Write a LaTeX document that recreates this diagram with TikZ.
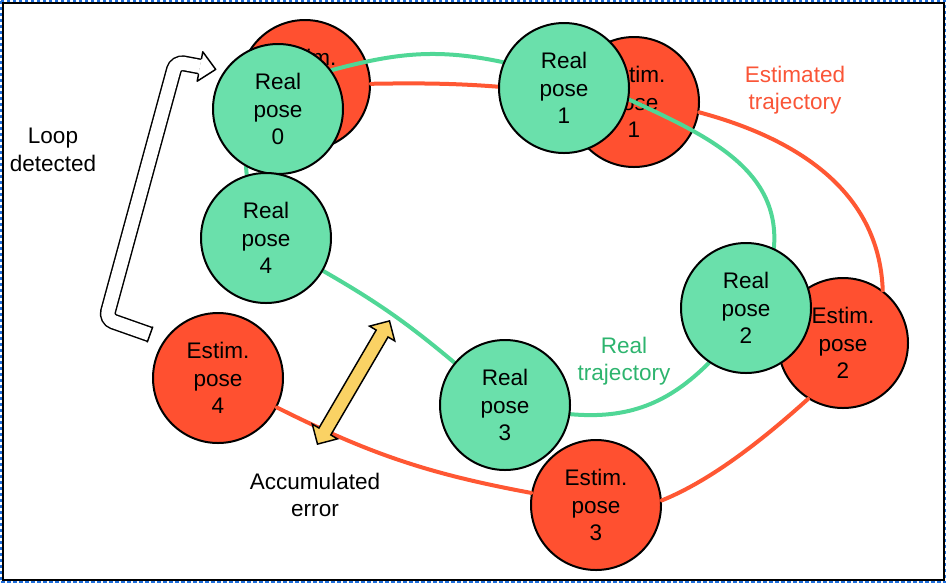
\documentclass[tikz,border=0pt]{standalone}
\usepackage{fontspec}
\setmainfont{Liberation Sans}
\usetikzlibrary{arrows.meta, shapes.arrows}
\definecolor{realFill}{RGB}{106,224,171}
\definecolor{realLine}{RGB}{80,215,150}
\definecolor{realText}{RGB}{45,180,110}
\definecolor{estFill}{RGB}{255,80,48}
\definecolor{estLine}{RGB}{255,87,51}
\definecolor{estText}{RGB}{250,85,55}
\definecolor{errYellow}{RGB}{250,210,100}
\definecolor{frameBlue}{RGB}{30,110,220}
\newcommand{\posefont}{\fontsize{16.9}{20.6}\selectfont}
\pgfdeclarelayer{front}
\pgfsetlayers{main,front}
\tikzset{
  pose/.style={circle, draw=black, line width=1.5pt, minimum size=97.5pt, inner sep=0pt, align=center, font=\posefont},
  realpose/.style={pose, fill=realFill},
  estpose/.style={pose, fill=estFill},
  realtraj/.style={draw=realLine, line width=3pt},
  esttraj/.style={draw=estLine, line width=3pt},
  caption/.style={align=center, font=\posefont},
  errarrow/.style={double arrow, draw=black, fill=errYellow, line width=1.1pt, inner xsep=0pt, inner ysep=4.6pt,
    minimum height=107pt, double arrow head extend=5.8pt, double arrow head indent=0pt},
}

\begin{document}
\begin{tikzpicture}[x=0.75pt, y=-0.75pt, line cap=round]
	\useasboundingbox (0,0) rectangle (946,583);
	% frame
	\draw[frameBlue, line width=1.2pt, dash pattern=on 2.5pt off 2pt, line cap=butt] (0.8,0.8) rectangle (945.2,582.2);
	\draw[line width=1.5pt, line cap=butt] (3,3) rectangle (943.5,580);

	% estimated poses
	\node[estpose] (est0) at (305,85) {Estim.\\pose\\0};
	\node[estpose] (est1) at (634,102) {Estim.\\pose\\1};
	\node[estpose] (est2) at (843,343) {Estim.\\pose\\2};
	\node[estpose] (est3) at (596,505) {Estim.\\pose\\3};
	\node[estpose] (est4) at (218,378) {Estim.\\pose\\4};

	% real poses, on top
	\begin{pgfonlayer}{front}
	\node[realpose] (real0) at (278,109) {Real\\pose\\0};
	\node[realpose] (real1) at (564,88) {Real\\pose\\1};
	\node[realpose] (real2) at (746,308) {Real\\pose\\2};
	\node[realpose] (real3) at (505,405) {Real\\pose\\3};
	\node[realpose] (real4) at (266,238) {Real\\pose\\4};
	\end{pgfonlayer}

	% estimated trajectory
	\draw[esttraj] (est0) to[bend left=4] (est1);
	\draw[esttraj] (est1.-9) to[out=-15, in=92] (est2.53);
	\draw[esttraj] (est3.4) to[out=22, in=222, looseness=0.8] (est2.238);
	\draw[esttraj] (est4) to[bend right=8] (est3);

	% real trajectory
	\draw[realtraj] (real0.36) to[out=15, in=168] (real1.157);
	\draw[realtraj] (real1.-10) to[out=-25, in=85] (real2.65);
	\draw[realtraj] (real3.-8) to[out=-5, in=225] (real2.236);
	\draw[realtraj] (real4) to[bend left=5] (real3);
	\draw[realtraj] (real4.107) -- (real0.241);

	% accumulated error
	\node[errarrow, rotate=59.7] (errarr) at (353.5,382.5) {};

	% loop closure arrow
	\draw[line width=1.1pt, double=white, double distance=9.8pt, line cap=butt, rounded corners=6pt]
		(150,334.5) -- (106,319) -- (176,62) -- (200,66.5);
	\draw[line width=1.1pt] (147.3,342) -- (152.7,327);
	\fill[white] (202.8,51.8) -- (215.7,69.4) -- (197.2,81.2) -- cycle;
	\draw[line width=1.1pt, line join=round] (201.5,58.6) -- (202.8,51.8) -- (215.7,69.4) -- (197.2,81.2) -- (198.5,74.4);

	% labels
	\node[caption] (looplbl) at (53,150) {Loop\\detected};
	\node[caption, text=estText] (estlbl) at (795,90) {Estimated\\trajectory};
	\node[caption, text=realText] (reallbl) at (624,361) {Real\\trajectory};
	\node[caption] (errlbl) at (315,495) {Accumulated\\error};
\end{tikzpicture}
\end{document}
